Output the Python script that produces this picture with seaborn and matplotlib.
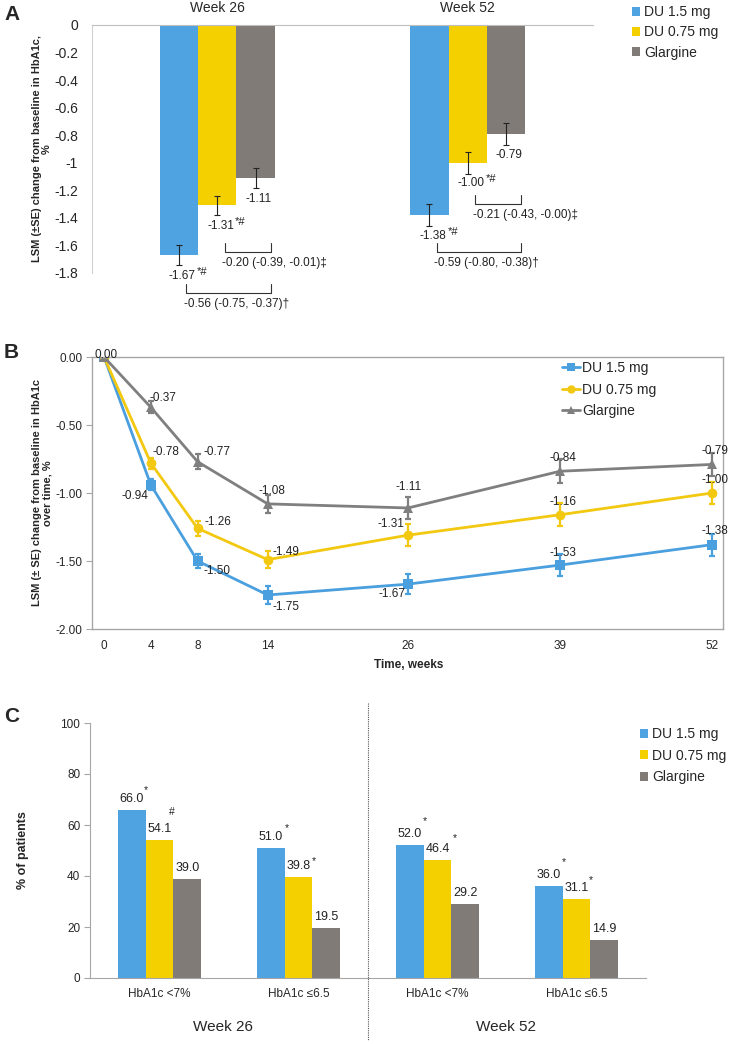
import numpy as np
import pandas as pd
import seaborn as sns
import matplotlib.pyplot as plt
from matplotlib.patches import Patch
from matplotlib.lines import Line2D

sns.set_style('white')
plt.rcParams['font.family'] = ['Liberation Sans', 'DejaVu Sans']

groups = ['DU 1.5 mg', 'DU 0.75 mg', 'Glargine']
bar_colors = ['#4FA3E0', '#F4D000', '#817B77']
line_colors = ['#4A9FDE', '#F2C811', '#7F7F7F']

# --- panel A data: LSM change at week 26 / 52 ---
a_weeks = ['Week 26', 'Week 52']
a_du15 = [-1.67, -1.38]
a_du075 = [-1.31, -1.00]
a_glar = [-1.11, -0.79]
a_se_du15 = [0.07, 0.08]
a_se_du075 = [0.07, 0.08]
a_se_glar = [0.07, 0.08]
a_marks = ['*#', '*#', '']
# treatment differences vs glargine
a_diff_week = [0, 1, 0, 1]
a_diff_group = [0, 0, 1, 1]
a_diff_text = ['-0.56 (-0.75, -0.37)\u2020', '-0.59 (-0.80, -0.38)\u2020',
               '-0.20 (-0.39, -0.01)\u2021', '-0.21 (-0.43, -0.00)\u2021']
a_diff_level = [-1.945, -1.65, -1.65, -1.30]

# --- panel B data: change over time ---
b_weeks = [0, 4, 8, 14, 26, 39, 52]
b_du15 = [0.00, -0.94, -1.50, -1.75, -1.67, -1.53, -1.38]
b_du075 = [0.00, -0.78, -1.26, -1.49, -1.31, -1.16, -1.00]
b_glar = [0.00, -0.37, -0.77, -1.08, -1.11, -0.84, -0.79]
b_se_du15 = [0.0, 0.04, 0.05, 0.065, 0.075, 0.08, 0.08]
b_se_du075 = [0.0, 0.04, 0.055, 0.065, 0.08, 0.085, 0.08]
b_se_glar = [0.0, 0.045, 0.055, 0.065, 0.08, 0.09, 0.085]
# label offsets in pixels (dx, dy up)
b_off_du15 = [None, (-16, -11), (19, -10), (18, -12), (-16, -10), (3, 12), (3, 14)]
b_off_du075 = [None, (15, 11), (20, 6), (18, 8), (-17, 11), (3, 13), (3, 13)]
b_off_glar = [(2, 2), (12, 9), (19, 10), (4, 13), (1, 21), (3, 13), (3, 13)]

# --- panel C data: % of patients reaching target ---
c_cats = ['HbA1c <7%', 'HbA1c \u22646.5', 'HbA1c <7%', 'HbA1c \u22646.5']
c_du15 = [66.0, 51.0, 52.0, 36.0]
c_du075 = [54.1, 39.8, 46.4, 31.1]
c_glar = [39.0, 19.5, 29.2, 14.9]
c_mark_du15 = ['*', '*', '*', '*']
c_mark_du075 = ['#', '*', '*', '*']
c_mark_off_du15 = [(14, 20), (16, 20), (15, 24), (15, 24)]
c_mark_off_du075 = [(12, 28), (15, 15), (17, 22), (14, 19)]

W, H = 731, 1044
fig = plt.figure(figsize=(W / 100, H / 100), dpi=100)

# ================= Panel A =================
axA = fig.add_axes([92 / W, 1 - 273 / H, 501 / W, 248 / H])
dfA = pd.DataFrame({'week': a_weeks * 3,
                    'group': np.repeat(groups, 2),
                    'value': a_du15 + a_du075 + a_glar})
sns.barplot(data=dfA, x='week', y='value', hue='group', order=a_weeks,
            hue_order=groups, palette=bar_colors, width=0.46, errorbar=None,
            linewidth=0, saturation=1, legend=False, ax=axA)

a_vals = [a_du15, a_du075, a_glar]
a_ses = [a_se_du15, a_se_du075, a_se_glar]
centers = []
bar_conts = list(axA.containers)
for gi, cont in enumerate(bar_conts):
    xs = [b.get_x() + b.get_width() / 2 for b in cont]
    centers.append(xs)
    axA.errorbar(xs, a_vals[gi], yerr=a_ses[gi], fmt='none', ecolor='#222222',
                 elinewidth=0.8, capsize=2, capthick=0.8)
    for x, v in zip(xs, a_vals[gi]):
        if a_marks[gi]:
            axA.annotate(f'{v:.2f}', (x, v - 0.15), xytext=(17, 0),
                         textcoords='offset pixels', ha='right', va='center',
                         fontsize=8.5, color='#222222', annotation_clip=False)
            axA.annotate(a_marks[gi], (x, v - 0.15), xytext=(18, 4),
                         textcoords='offset pixels', ha='left', va='center',
                         fontsize=8, color='#222222', annotation_clip=False)
        else:
            axA.annotate(f'{v:.2f}', (x, v - 0.15), xytext=(3, 0),
                         textcoords='offset pixels', ha='center', va='center',
                         fontsize=8.5, color='#222222', annotation_clip=False)

for wk, gi, txt, lvl in zip(a_diff_week, a_diff_group, a_diff_text, a_diff_level):
    x0 = centers[gi][wk] + 0.03
    x1 = centers[2][wk] + 0.06
    axA.plot([x0, x0, x1, x1], [lvl + 0.065, lvl, lvl, lvl + 0.065],
             color='#333333', lw=0.8, clip_on=False)
    axA.text(x0 - 0.01, lvl - 0.08, txt, ha='left', va='center', fontsize=8.5,
             color='#222222', clip_on=False)

axA.set_ylim(-1.8, 0)
axA.set_xlim(-0.5, 1.5)
yt = np.round(np.arange(0, -1.81, -0.2), 1)
axA.set_yticks(yt)
axA.set_yticklabels([f'{v:g}' if v != 0 else '0' for v in yt], fontsize=10)
axA.xaxis.tick_top()
axA.tick_params(axis='x', length=0, pad=7, labelsize=10)
axA.tick_params(axis='y', length=0, pad=10)
axA.set_xlabel('')
axA.set_ylabel('LSM (\u00b1SE) change from baseline in HbA1c,\n%',
               fontsize=8, fontweight='bold', linespacing=1.0)
axA.yaxis.set_label_coords(-0.08, 0.5)
for s in ['right', 'bottom']:
    axA.spines[s].set_visible(False)
axA.spines['top'].set_color('#BFBFBF')
axA.spines['left'].set_color('#D0D0D0')

handlesA = [Patch(facecolor=c, edgecolor='none', label=g) for c, g in zip(bar_colors, groups)]
axA.legend(handles=handlesA, loc='upper left', bbox_to_anchor=(632 / W, 1 - 5 / H),
           bbox_transform=fig.transFigure, frameon=False, fontsize=10,
           handlelength=0.6, handleheight=0.6, handletextpad=0.25,
           labelspacing=0.45, borderaxespad=0, borderpad=0)

# ================= Panel B =================
axB = fig.add_axes([92 / W, 1 - 629 / H, 631 / W, 272 / H])
dfB = pd.DataFrame({'week': b_weeks * 3,
                    'group': np.repeat(groups, len(b_weeks)),
                    'value': b_du15 + b_du075 + b_glar})
sns.lineplot(data=dfB, x='week', y='value', hue='group', style='group',
             hue_order=groups, style_order=groups, palette=line_colors,
             markers=['s', 'o', '^'], dashes=False, lw=2, markersize=7,
             markeredgewidth=0, errorbar=None, legend=False, ax=axB)

b_vals = [b_du15, b_du075, b_glar]
b_ses = [b_se_du15, b_se_du075, b_se_glar]
b_offs = [b_off_du15, b_off_du075, b_off_glar]
for gi in range(3):
    axB.errorbar(b_weeks, b_vals[gi], yerr=b_ses[gi], fmt='none',
                 ecolor=line_colors[gi], elinewidth=1.6, capsize=2.5, capthick=1.6)
    for wk, v, off in zip(b_weeks, b_vals[gi], b_offs[gi]):
        if off is None:
            continue
        axB.annotate(f'{v:.2f}', (wk, v), xytext=off, textcoords='offset pixels',
                     ha='center', va='center', fontsize=8.5, color='#222222',
                     annotation_clip=False)

axB.set_xlim(-1.03, 52.94)
axB.set_ylim(-2, 0)
axB.set_xticks(b_weeks)
axB.set_xticklabels([str(w) for w in b_weeks], fontsize=8.5)
ytb = [0, -0.5, -1.0, -1.5, -2.0]
axB.set_yticks(ytb)
axB.set_yticklabels([f'{v:.2f}' for v in ytb], fontsize=8.5)
axB.tick_params(axis='x', length=0, pad=8)
axB.tick_params(axis='y', length=4, width=0.8, color='#A6A6A6', pad=3, left=True)
for s in axB.spines.values():
    s.set_color('#A6A6A6')
    s.set_linewidth(1)
axB.set_xlabel('Time, weeks', fontsize=8.5, fontweight='bold')
axB.xaxis.set_label_coords(0.502, -0.11)
axB.set_ylabel('LSM (\u00b1 SE) change from baseline in HbA1c\nover time, %',
               fontsize=8, fontweight='bold', linespacing=1.0)
axB.yaxis.set_label_coords(-0.063, 0.5)

markers = ['s', 'o', '^']
handlesB = [Line2D([0], [0], color=c, lw=2, marker=m, markersize=6, markeredgewidth=0, label=g)
            for c, m, g in zip(line_colors, markers, groups)]
axB.legend(handles=handlesB, loc='upper left', bbox_to_anchor=(562 / W, 1 - 361 / H),
           bbox_transform=fig.transFigure, frameon=False, fontsize=10,
           handlelength=1.3, handletextpad=0.15, labelspacing=0.55,
           borderaxespad=0, borderpad=0)

# ================= Panel C =================
axC = fig.add_axes([90 / W, 1 - 978 / H, 556 / W, 255 / H])
slots = ['s0', 's1', 's2', 's3']
dfC = pd.DataFrame({'slot': slots * 3,
                    'group': np.repeat(groups, 4),
                    'value': c_du15 + c_du075 + c_glar})
sns.barplot(data=dfC, x='slot', y='value', hue='group', order=slots,
            hue_order=groups, palette=bar_colors, width=0.6, errorbar=None,
            linewidth=0, saturation=1, legend=False, ax=axC)

c_vals = [c_du15, c_du075, c_glar]
c_marks = [c_mark_du15, c_mark_du075, [''] * 4]
c_moffs = [c_mark_off_du15, c_mark_off_du075, [(0, 0)] * 4]
for gi, cont in enumerate(list(axC.containers)):
    for bar, v, mk, mo in zip(cont, c_vals[gi], c_marks[gi], c_moffs[gi]):
        xc = bar.get_x() + bar.get_width() / 2
        axC.annotate(f'{v:.1f}', (xc, v), xytext=(0, 11), textcoords='offset pixels',
                     ha='center', va='center', fontsize=9, color='#222222')
        if mk:
            axC.annotate(mk, (xc, v), xytext=mo, textcoords='offset pixels',
                         ha='center', va='center', fontsize=7.5, color='#222222')

axC.set_xlim(-0.5, 3.5)
axC.set_ylim(0, 100)
axC.set_yticks(range(0, 101, 20))
axC.set_yticklabels([str(v) for v in range(0, 101, 20)], fontsize=8.5)
axC.set_xticks(range(4))
axC.set_xticklabels(c_cats, fontsize=8.5)
axC.tick_params(axis='x', length=0, pad=7)
axC.tick_params(axis='y', length=4, width=0.8, color='#A6A6A6', pad=3, left=True)
for s in ['top', 'right']:
    axC.spines[s].set_visible(False)
for s in ['left', 'bottom']:
    axC.spines[s].set_color('#A6A6A6')
axC.set_xlabel('')
axC.set_ylabel('% of patients', fontsize=9, fontweight='bold')
axC.yaxis.set_label_coords(-0.11, 0.5)

axC.plot([1.5, 1.5], [107.8, -24.3], ls=(0, (1, 1)), color='#555555', lw=0.8,
         clip_on=False)
axC.text(0.46, -19.2, 'Week 26', ha='center', va='center', fontsize=11, clip_on=False)
axC.text(2.49, -19.2, 'Week 52', ha='center', va='center', fontsize=11, clip_on=False)

handlesC = [Patch(facecolor=c, edgecolor='none', label=g) for c, g in zip(bar_colors, groups)]
axC.legend(handles=handlesC, loc='upper left', bbox_to_anchor=(640 / W, 1 - 727 / H),
           bbox_transform=fig.transFigure, frameon=False, fontsize=10,
           handlelength=0.6, handleheight=0.6, handletextpad=0.25,
           labelspacing=0.55, borderaxespad=0, borderpad=0)

# panel letters
fig.text(4 / W, 1 - 15 / H, 'A', fontsize=15, fontweight='bold', va='center')
fig.text(4 / W, 1 - 352 / H, 'B', fontsize=15, fontweight='bold', va='center')
fig.text(4 / W, 1 - 717 / H, 'C', fontsize=15, fontweight='bold', va='center')

fig.savefig('out.png', dpi=100)
